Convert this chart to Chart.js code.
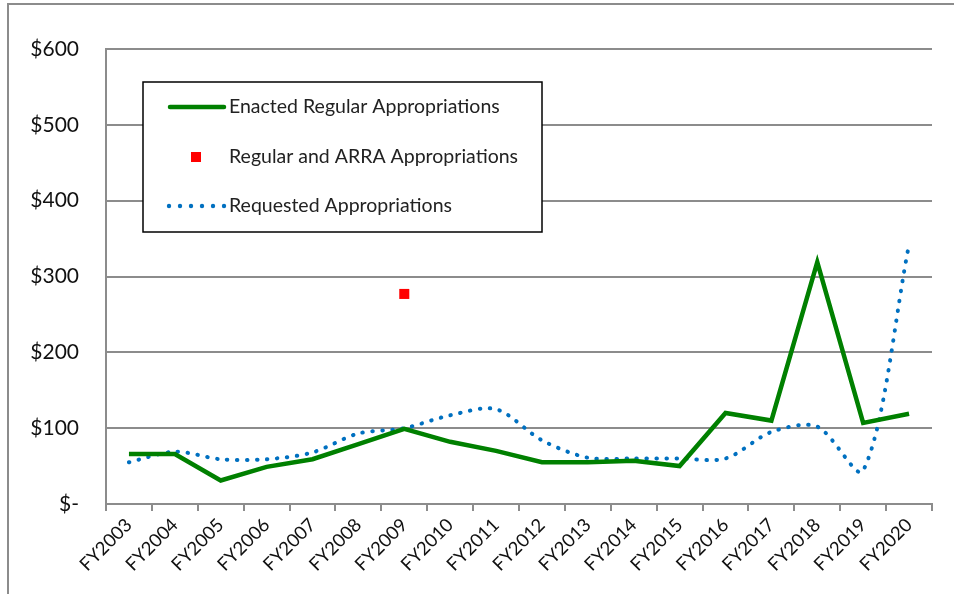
<!DOCTYPE html>
<html>

<head>
    <meta charset='utf-8'>
    <title>Appropriations FY2003-FY2020</title>
    <script src="https://cdn.jsdelivr.net/npm/chart.js@4.4.1/dist/chart.umd.min.js"></script>
    <style>
        body { margin: 0; background: #fff; }
        #wrap { width: 954px; height: 594px; }
    </style>
</head>

<body>
    <div id="wrap"><canvas id="myChart" width="954" height="594"></canvas></div>
    <script>
        const years = ['FY2003', 'FY2004', 'FY2005', 'FY2006', 'FY2007', 'FY2008', 'FY2009', 'FY2010', 'FY2011',
            'FY2012', 'FY2013', 'FY2014', 'FY2015', 'FY2016', 'FY2017', 'FY2018', 'FY2019', 'FY2020'];
        const enacted = [66, 66, 31, 49, 59, 79, 99, 82, 70, 55, 55, 57, 50, 120, 110, 319, 107, 119];
        const arra = [null, null, null, null, null, null, 277, null, null, null, null, null, null, null, null, null, null, null];
        const requested = [55, 69, 59, 59, 68, 93, 100, 117, 125, 84, 61, 60, 60, 60, 95, 102, 44, 342];
        const yTicks = [0, 100, 200, 300, 400, 500, 600];

        const FONT = 'Lato, "Open Sans", sans-serif';
        const GRID = '#8c8c8c';

        // frame around the whole chart + white background
        const framePlugin = {
            id: 'frame',
            beforeDraw(chart) {
                const ctx = chart.ctx;
                ctx.save();
                ctx.fillStyle = '#fff';
                ctx.fillRect(0, 0, chart.width, chart.height);
                ctx.strokeStyle = GRID;
                ctx.lineWidth = 2;
                ctx.beginPath();
                ctx.moveTo(8, chart.height);
                ctx.lineTo(8, 4);
                ctx.lineTo(chart.width, 4);
                ctx.stroke();
                ctx.restore();
            }
        };

        // boxed legend inside the plot, like the original
        const boxLegend = {
            id: 'boxLegend',
            afterDraw(chart) {
                const ctx = chart.ctx;
                const ds = chart.data.datasets;
                ctx.save();
                ctx.fillStyle = '#fff';
                ctx.fillRect(143, 82, 399, 150);
                ctx.strokeStyle = '#000';
                ctx.lineWidth = 1.5;
                ctx.strokeRect(143, 82, 399, 150);
                const rows = [107, 157, 206];
                ctx.font = '19.5px ' + FONT;
                ctx.textBaseline = 'middle';
                ctx.fillStyle = '#222';
                ds.forEach((d, i) => ctx.fillText(d.label, 229, rows[i]));
                // green line sample
                ctx.strokeStyle = ds[0].borderColor;
                ctx.lineWidth = 4.5;
                ctx.lineCap = 'round';
                ctx.beginPath();
                ctx.moveTo(170, rows[0]);
                ctx.lineTo(224, rows[0]);
                ctx.stroke();
                // red square
                ctx.fillStyle = ds[1].backgroundColor;
                ctx.fillRect(191, rows[1] - 5, 10, 10);
                // blue dots
                ctx.fillStyle = ds[2].borderColor;
                for (let x = 169; x <= 226; x += 11) {
                    ctx.beginPath();
                    ctx.arc(x, rows[2], 2.2, 0, Math.PI * 2);
                    ctx.fill();
                }
                ctx.restore();
            }
        };

        const ctx = document.getElementById('myChart').getContext('2d');
        const myChart = new Chart(ctx, {
            type: 'line',
            data: {
                labels: years,
                datasets: [{
                        label: 'Enacted Regular Appropriations',
                        data: enacted,
                        borderColor: '#008000',
                        backgroundColor: '#008000',
                        borderWidth: 4.5,
                        pointRadius: 0,
                        tension: 0,
                        order: 2
                    },
                    {
                        label: 'Regular and ARRA Appropriations',
                        data: arra,
                        borderColor: '#ff0000',
                        backgroundColor: '#ff0000',
                        showLine: false,
                        pointStyle: 'rect',
                        pointRadius: 7.1,
                        pointBorderWidth: 0,
                        order: 1
                    },
                    {
                        label: 'Requested Appropriations',
                        data: requested,
                        borderColor: '#0070c0',
                        backgroundColor: '#0070c0',
                        borderWidth: 4,
                        borderDash: [0.5, 9.5],
                        borderCapStyle: 'round',
                        pointRadius: 0,
                        tension: 0.3,
                        order: 3
                    }
                ]
            },
            options: {
                responsive: false,
                animation: false,
                layout: { padding: { left: 0, right: 22, top: 49, bottom: 0 } },
                plugins: {
                    legend: { display: false },
                    tooltip: { enabled: false }
                },
                scales: {
                    x: {
                        offset: true,
                        grid: {
                            offset: true,
                            drawOnChartArea: false,
                            drawTicks: true,
                            tickLength: 7,
                            color: GRID,
                            lineWidth: 2
                        },
                        border: { display: true, color: GRID, width: 2 },
                        ticks: {
                            maxRotation: 45,
                            minRotation: 45,
                            autoSkip: false,
                            padding: 3,
                            color: '#111',
                            font: { family: FONT, size: 18.5 }
                        },
                        afterFit(axis) { axis.height = 90; }
                    },
                    y: {
                        min: 0,
                        max: 600,
                        afterBuildTicks(axis) { axis.ticks = yTicks.map(v => ({ value: v })); },
                        grid: { color: GRID, lineWidth: 2, drawTicks: false },
                        border: { display: true, color: GRID, width: 2 },
                        ticks: {
                            padding: 27,
                            color: '#111',
                            font: { family: FONT, size: 21 },
                            callback: v => v === 0 ? '$-' : '$' + v
                        },
                        afterFit(axis) { axis.width = 106; }
                    }
                }
            },
            plugins: [framePlugin, boxLegend]
        });
    </script>
</body>

</html>
